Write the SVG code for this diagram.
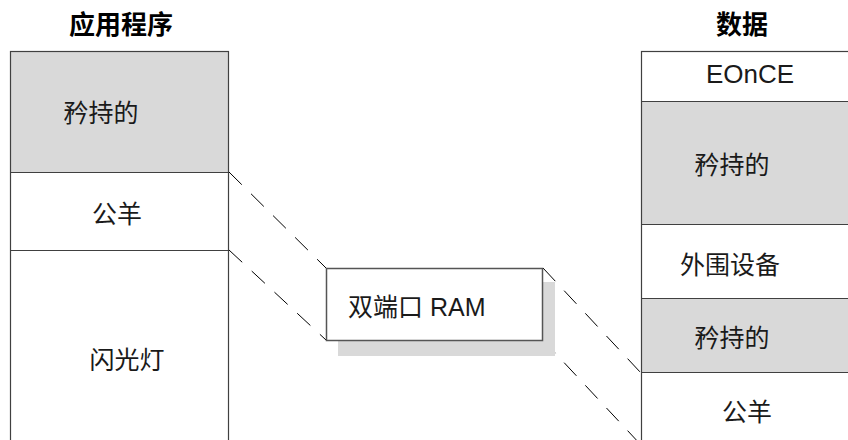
<svg xmlns="http://www.w3.org/2000/svg" width="848" height="440" viewBox="0 0 848 440">
<style>
.t{font-family:"Liberation Sans","Noto Sans CJK SC",sans-serif;font-size:25px;fill:#1a1a1a;text-anchor:middle}
.h{font-family:"Liberation Sans","Noto Sans CJK SC",sans-serif;font-size:26px;font-weight:bold;fill:#000;text-anchor:middle}
.g{fill:#d9d9d9;stroke:none}
.w{fill:#fff;stroke:none}
.b{fill:none;stroke:#404040;stroke-width:1.2}
.d{stroke:#000;stroke-width:1;stroke-dasharray:18 13;fill:none}
</style>
<rect width="848" height="440" fill="#fff"/>
<g id="app-column">
<text class="h" x="121" y="34">应用程序</text>
<rect class="g" x="10.5" y="51.5" width="218" height="121"/>
<rect class="b" x="10.5" y="51.5" width="218" height="420"/>
<line class="b" x1="10.5" y1="172.5" x2="228.5" y2="172.5"/>
<line class="b" x1="10.5" y1="250.5" x2="228.5" y2="250.5"/>
</g>
<g id="app-reserved"><text class="t" x="101" y="122">矜持的</text></g>
<g id="app-public"><text class="t" x="117" y="223">公羊</text></g>
<g id="app-flash"><text class="t" x="127" y="369">闪光灯</text></g>
<g id="data-column">
<text class="h" x="742" y="34">数据</text>
<rect class="g" x="641.5" y="101.5" width="210" height="123"/>
<rect class="g" x="641.5" y="298.5" width="210" height="74"/>
<rect class="b" x="641.5" y="51.5" width="220" height="420"/>
<line class="b" x1="641.5" y1="101.5" x2="848" y2="101.5"/>
<line class="b" x1="641.5" y1="224.5" x2="848" y2="224.5"/>
<line class="b" x1="641.5" y1="298.5" x2="848" y2="298.5"/>
<line class="b" x1="641.5" y1="372.5" x2="848" y2="372.5"/>
</g>
<g id="data-eonce"><text class="t" x="750" y="83" style="font-size:26px">EOnCE</text></g>
<g id="data-reserved1"><text class="t" x="732" y="174">矜持的</text></g>
<g id="data-peripheral"><text class="t" x="730" y="274">外围设备</text></g>
<g id="data-reserved2"><text class="t" x="732" y="347">矜持的</text></g>
<g id="data-public"><text class="t" x="747" y="421">公羊</text></g>
<g id="connectors">
<line class="d" x1="229" y1="172" x2="326" y2="268"/>
<line class="d" x1="229" y1="250" x2="326" y2="340"/>
<line class="d" x1="543" y1="268" x2="641" y2="373"/>
<line class="d" x1="543" y1="340" x2="641" y2="445"/>
</g>
<g id="dual-port-ram">
<rect class="g" x="338" y="282" width="217" height="74"/>
<rect x="326.5" y="268.5" width="216" height="72" fill="#fff" stroke="#555" stroke-width="1.5"/>
<text class="t" x="348" y="316" style="text-anchor:start">双端口 RAM</text>
</g>
</svg>
